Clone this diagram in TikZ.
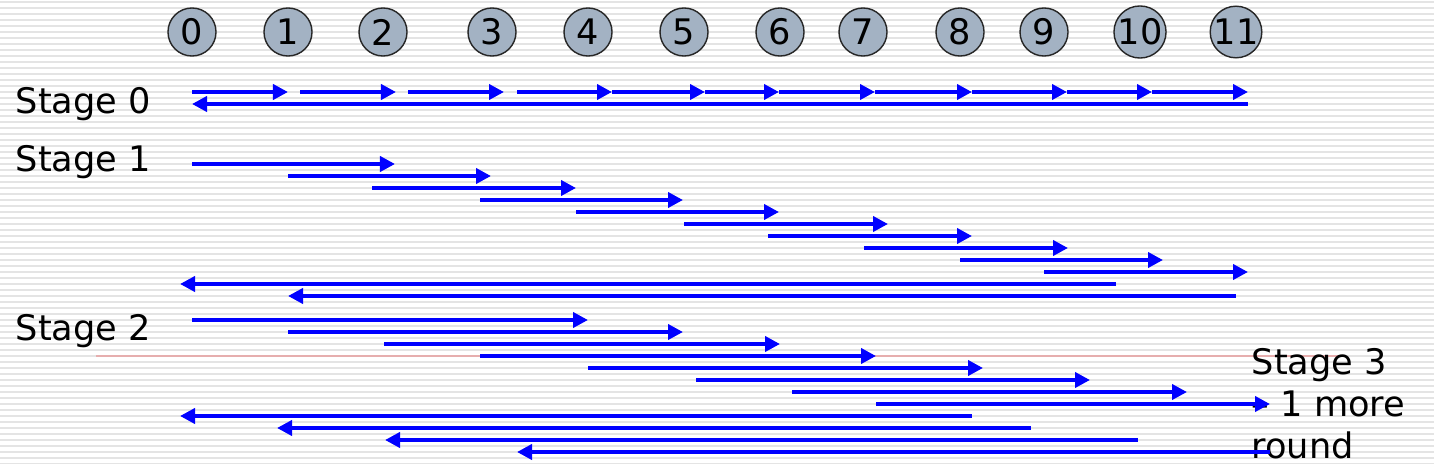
\documentclass[tikz,border=0pt]{standalone}
\usepackage{fontspec}
\setmainfont{DejaVu Sans}
\usetikzlibrary{arrows.meta}
\definecolor{procfill}{HTML}{A3B2C3}
\definecolor{stripegray}{HTML}{E4E4E4}
\definecolor{cutline}{HTML}{E6AEAE}

\begin{document}
\begin{tikzpicture}[
  x=0.01cm, y=-0.01cm,
  proc/.style={circle, draw=black!85, line width=0.4pt, fill=procfill,
    minimum size=0.48cm, inner sep=0pt, font=\fontsize{10}{12}\selectfont},
  stagelabel/.style={anchor=base west, inner sep=0pt, font=\fontsize{10}{12}\selectfont},
  msg/.style={draw=blue, line width=0.04cm, -{Triangle[length=0.15cm, width=0.15cm]}},
  stripe/.style={draw=stripegray, line width=0.018cm},
]
\useasboundingbox (0,0) rectangle (1434,464);

% Striped background
\fill[white] (0,0) rectangle (1434,464);
\foreach \y in {2,8,...,464}
  \draw[stripe] (0,\y) -- (1434,\y);

% Processes
\foreach \i/\x in {0/192, 1/288, 2/383, 3/492, 4/588, 5/684,
                   6/780, 7/863, 8/960, 9/1044, 10/1140, 11/1236}
  \node[proc] (p\i) at (\x,32) {\i};

% Cut line below Stage 2
\draw[cutline, line width=0.015cm] (96,356) -- (1343,356);

% Stage labels
\node[stagelabel] (st0) at (15,114) {Stage 0};
\node[stagelabel] (st1) at (15,172) {Stage 1};
\node[stagelabel] (st2) at (15,340) {Stage 2};
\node[stagelabel] (st3a) at (1251,374) {Stage 3};
\node[stagelabel] (st3b) at (1251,416) {– 1 more};
\node[stagelabel] (st3c) at (1251,458) {round};

% Stage 0 — neighbour steps
\foreach \a/\b in {192/288, 300/396, 408/504, 517/612, 612/705, 705/779,
                   779/875, 875/972, 972/1067, 1067/1152, 1152/1248}
  \draw[msg] (\a,92) -- (\b,92);
\draw[msg] (1248,104) -- (192,104);

% Stage 1 — two-hop steps
\foreach \y/\a/\b in {164/192/395, 176/288/491, 188/372/576, 200/480/683,
                      212/576/779, 224/684/888, 236/768/972, 248/864/1068,
                      260/960/1163, 272/1044/1248, 284/1116/180, 296/1236/288}
  \draw[msg] (\a,\y) -- (\b,\y);

% Stage 2 — four-hop steps
\foreach \y/\a/\b in {320/192/588, 332/288/683, 344/384/780, 356/480/876,
                      368/588/983, 380/696/1090, 392/792/1187, 404/876/1270,
                      416/972/180, 428/1031/277, 440/1138/385, 452/1270/517}
  \draw[msg] (\a,\y) -- (\b,\y);

\end{tikzpicture}
\end{document}
